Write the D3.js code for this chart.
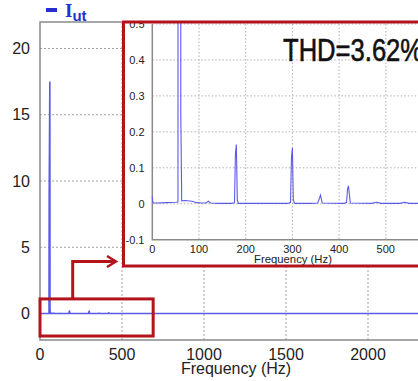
<!DOCTYPE html>
<html>
<head>
<meta charset="utf-8">
<script src="https://cdn.jsdelivr.net/npm/d3@7"></script>
<style>
  body { margin: 0; background: #fff; overflow: hidden; }
  text { font-family: "Liberation Sans", Arial, sans-serif; }
</style>
</head>
<body>
<svg id="chart" width="418" height="381"></svg>
<script>
// spectrum of I_ut (Hz, amplitude)
const freq = [0, 1, 3, 10, 30, 50, 55, 56, 60, 61, 63, 70, 85, 95, 105, 115, 120, 125, 140, 170,
  176, 178, 180, 182, 184, 200, 250, 290, 296, 298, 300, 302, 305, 340, 354, 358, 360, 364,
  410, 416, 418, 420, 424, 470, 480, 490, 530, 540, 550, 700, 1000, 2500];
const amp = [0.02, 0.004, 0.002, 0.002, 0.003, 0.004, 0.005, 8.7, 17.5, 0.25, 0.008, 0.009, 0.007, 0.003, 0.002, 0.002, 0.007, 0.002, 0.001, 0.001,
  0.003, 0.14, 0.165, 0.01, 0.001, 0.001, 0.001, 0.001, 0.004, 0.13, 0.155, 0.01, 0.001, 0.001, 0.002, 0.015, 0.024, 0.002,
  0.001, 0.004, 0.04, 0.05, 0.002, 0.001, 0.004, 0.001, 0.001, 0.004, 0.001, 0.001, 0.001, 0.001];

const mainYTicks = [0, 5, 10, 15, 20];
const mainXTicks = [0, 500, 1000, 1500, 2000, 2500];
const insetYTicks = [-0.1, 0, 0.1, 0.2, 0.3, 0.4, 0.5];
const insetXTicks = [0, 100, 200, 300, 400, 500, 600, 700];
const thdLabel = "THD=3.62%";
const zoomBox = { f0: 0, f1: 690, a0: -1.7, a1: 1.1 };

const data = freq.map((f, i) => ({ f: f, a: amp[i] }));

const blue = "#5b5be8";
const red = "#b3141c";
const gray = "#8a8a8a";

const svg = d3.select("#chart");

// ---- main plot ----
const x = d3.scaleLinear().domain([0, 2500]).range([40, 450]);
const y = d3.scaleLinear().domain([-2, 22]).range([340, 22]);

const grid = svg.append("g").attr("stroke", "#a0a0a0").attr("stroke-dasharray", "2,2").attr("stroke-width", 1);
grid.selectAll("line.h").data(mainYTicks.filter(d => d > 0)).enter().append("line")
  .attr("x1", x(0)).attr("x2", x(2500)).attr("y1", d => y(d)).attr("y2", d => y(d));
grid.selectAll("line.v").data(mainXTicks.filter(d => d > 0)).enter().append("line")
  .attr("x1", d => x(d)).attr("x2", d => x(d)).attr("y1", y(22)).attr("y2", y(-2));

svg.append("rect")
  .attr("x", x(0)).attr("y", y(22)).attr("width", x(2500) - x(0)).attr("height", y(-2) - y(22))
  .attr("fill", "none").attr("stroke", gray).attr("stroke-width", 1.5);

svg.append("g").selectAll("text").data(mainYTicks).enter().append("text")
  .attr("x", 30).attr("y", d => y(d)).attr("dy", "0.35em")
  .attr("text-anchor", "end").attr("font-size", 16).attr("fill", "#222")
  .text(d => d);

svg.append("g").selectAll("text").data(mainXTicks).enter().append("text")
  .attr("x", d => x(d)).attr("y", 360)
  .attr("text-anchor", "middle").attr("font-size", 16).attr("fill", "#222")
  .text(d => d);

svg.append("text").attr("x", 236).attr("y", 374).attr("text-anchor", "middle")
  .attr("font-size", 16).attr("fill", "#222").text("Frequency (Hz)");

const line = d3.line().x(d => x(d.f)).y(d => y(d.a));
svg.append("path").datum(data).attr("d", line)
  .attr("fill", "none").attr("stroke", blue).attr("stroke-width", 1.6);

// legend
svg.append("line").attr("x1", 46).attr("x2", 57).attr("y1", 10).attr("y2", 10)
  .attr("stroke", "#2630d0").attr("stroke-width", 4);
const leg = svg.append("text").attr("x", 65).attr("y", 16.5).attr("fill", "#2630d0").attr("font-weight", "bold");
leg.append("tspan").attr("font-family", "Liberation Serif, serif").attr("font-size", 19).text("I");
leg.append("tspan").attr("font-size", 15).attr("dy", 4).text("ut");

// zoom marker box + arrow
svg.append("rect")
  .attr("x", x(zoomBox.f0)).attr("y", y(zoomBox.a1))
  .attr("width", x(zoomBox.f1) - x(zoomBox.f0)).attr("height", y(zoomBox.a0) - y(zoomBox.a1))
  .attr("fill", "none").attr("stroke", red).attr("stroke-width", 3);
svg.append("path").attr("d", "M72.7," + y(zoomBox.a1) + "V261.5H115")
  .attr("fill", "none").attr("stroke", red).attr("stroke-width", 3);
svg.append("path").attr("d", "M107,256L116,261.5L107,267")
  .attr("fill", "none").attr("stroke", red).attr("stroke-width", 2.5);

// ---- inset ----
const box = { x: 123.5, y: 22, w: 320, h: 244 };
const ix = d3.scaleLinear().domain([0, 700]).range([152.3, 479.2]);
const iy = d3.scaleLinear().domain([-0.1, 0.5]).range([239.7, 24]);

svg.append("defs").append("clipPath").attr("id", "insetClip").append("rect")
  .attr("x", box.x).attr("y", box.y).attr("width", box.w).attr("height", box.h);

const inset = svg.append("g").attr("clip-path", "url(#insetClip)");
inset.append("rect").attr("x", box.x).attr("y", box.y).attr("width", box.w).attr("height", box.h).attr("fill", "#fff");

const igrid = inset.append("g").attr("stroke", "#b0b0b0").attr("stroke-dasharray", "1.5,2").attr("stroke-width", 1);
igrid.selectAll("line.h").data(insetYTicks.filter(d => d > -0.1)).enter().append("line")
  .attr("x1", ix(0)).attr("x2", ix(700)).attr("y1", d => iy(d)).attr("y2", d => iy(d));
igrid.selectAll("line.v").data(insetXTicks.filter(d => d > 0)).enter().append("line")
  .attr("x1", d => ix(d)).attr("x2", d => ix(d)).attr("y1", iy(0.5)).attr("y2", iy(-0.1));

inset.append("path").attr("d", "M" + ix(0) + "," + iy(0.5) + "V" + iy(-0.1) + "H" + ix(700))
  .attr("fill", "none").attr("stroke", gray).attr("stroke-width", 1.5);

inset.append("g").selectAll("text").data(insetYTicks).enter().append("text")
  .attr("x", 144.5).attr("y", d => iy(d)).attr("dy", "0.35em")
  .attr("text-anchor", "end").attr("font-size", 11).attr("fill", "#222")
  .text(d => d);

inset.append("g").selectAll("text").data(insetXTicks).enter().append("text")
  .attr("x", d => ix(d)).attr("y", 253)
  .attr("text-anchor", "middle").attr("font-size", 11).attr("fill", "#222")
  .text(d => d);

inset.append("text").attr("x", 293).attr("y", 262.5).attr("text-anchor", "middle")
  .attr("font-size", 11.3).attr("fill", "#222").text("Frequency (Hz)");

const iline = d3.line().x(d => ix(d.f)).y(d => iy(d.a));
inset.append("path").datum(data).attr("d", iline)
  .attr("fill", "none").attr("stroke", blue).attr("stroke-width", 1.1);

inset.append("text").attr("transform", "translate(283,61) scale(0.8,1)")
  .attr("font-size", 32).attr("fill", "#111")
  .attr("stroke", "#111").attr("stroke-width", 0.6)
  .text(thdLabel);

svg.append("rect").attr("x", box.x).attr("y", box.y).attr("width", box.w).attr("height", box.h)
  .attr("fill", "none").attr("stroke", red).attr("stroke-width", 3);
</script>
</body>
</html>
